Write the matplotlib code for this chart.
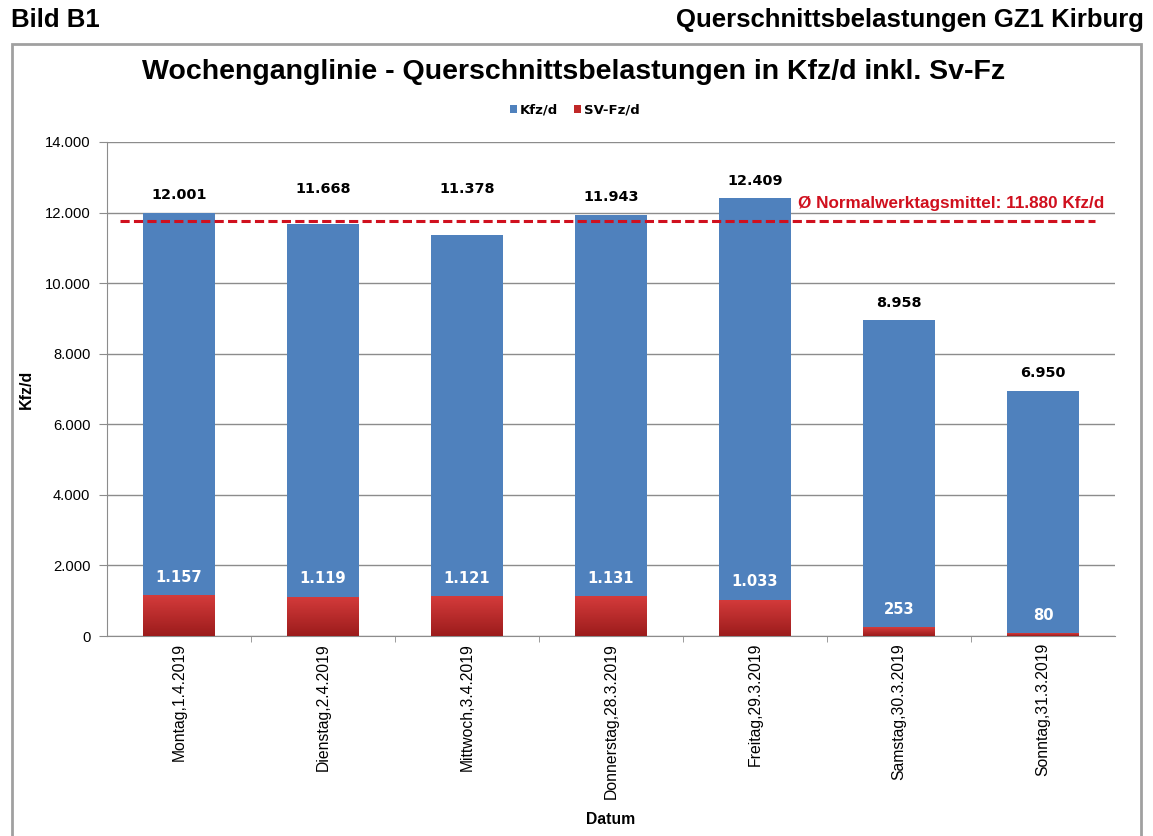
import numpy as np
import matplotlib
matplotlib.use('Agg')
import matplotlib.pyplot as plt
from matplotlib.patches import Rectangle
from matplotlib.colors import LinearSegmentedColormap
from matplotlib.ticker import FuncFormatter, FixedLocator

plt.rcParams['font.family'] = ['Liberation Sans', 'DejaVu Sans']

# data
days = ['Montag,1.4.2019', 'Dienstag,2.4.2019', 'Mittwoch,3.4.2019',
        'Donnerstag,28.3.2019', 'Freitag,29.3.2019', 'Samstag,30.3.2019',
        'Sonntag,31.3.2019']
kfz = [12001, 11668, 11378, 11943, 12409, 8958, 6950]
sv = [1157, 1119, 1121, 1131, 1033, 253, 80]
mean_label = 11880   # value written in the label
mean_drawn = 11750   # where the dashed line sits in the picture

def de(v):
    return '{:,.0f}'.format(v).replace(',', '.')

blue = '#4f81bd'
red_top = '#d43b3b'
red_bot = '#9c1c1c'
lred = '#d0101e'

fig = plt.figure(figsize=(11.53, 8.36), dpi=100)

# header and frame
fig.text(11/1153, 1-20/836, 'Bild B1', fontsize=18.5, fontweight='bold', va='center', ha='left')
fig.text(1144/1153, 1-20/836, 'Querschnittsbelastungen GZ1 Kirburg', fontsize=18.5,
         fontweight='bold', va='center', ha='right')
fig.patches.append(Rectangle((12/1153, -0.01), (1141-12)/1153, 1-44/836+0.01,
                             transform=fig.transFigure, fill=False,
                             edgecolor='#a0a0a0', linewidth=2))
fig.text(574/1153, 1-72/836, 'Wochenganglinie - Querschnittsbelastungen in Kfz/d inkl. Sv-Fz',
         fontsize=20.5, fontweight='bold', ha='center', va='center')

ax = fig.add_axes([107/1153, 1-636/836, (1115-107)/1153, (636-142)/836])
x = np.arange(len(days))
w = 0.5

b1 = ax.bar(x, kfz, width=w, color=blue, label='Kfz/d', zorder=2)
b2 = ax.bar(x, sv, width=w, color='#c02828', label='SV-Fz/d', zorder=3)

# gradient on the red bars
cmap = LinearSegmentedColormap.from_list('rg', [red_bot, red_top])
grad = np.linspace(0, 1, 64).reshape(-1, 1)
for r in b2:
    ext = [r.get_x(), r.get_x()+r.get_width(), 0, r.get_height()]
    im = ax.imshow(grad, cmap=cmap, extent=ext, origin='lower', aspect='auto', zorder=3.5)
    im.set_clip_path(r)

ax.axhline(mean_drawn, xmin=13/1008, xmax=988/1008, color=lred, linestyle=(0, (3, 1.4)),
           linewidth=2.2, zorder=4)
ax.annotate('Ø Normalwerktagsmittel: ' + de(mean_label) + ' Kfz/d', xy=(4.3, mean_drawn),
            xytext=(0, 13), textcoords='offset points', color=lred, fontsize=12.3,
            fontweight='bold', ha='left', va='center', zorder=5)

for i in range(len(days)):
    base = kfz[i]
    if 11000 < kfz[i] < mean_drawn:
        base = 12180   # labels of bars just under the line are lifted above it
    ax.annotate(de(kfz[i]), xy=(x[i], base), xytext=(0, 12.5),
                textcoords='offset points', ha='center', va='center', fontsize=10.4,
                fontweight='bold', color='black', family='DejaVu Sans')
    ax.annotate(de(sv[i]), xy=(x[i], sv[i]), xytext=(0, 13),
                textcoords='offset points', ha='center', va='center', fontsize=10.6,
                fontweight='bold', color='white', zorder=6, family='DejaVu Sans')

ax.set_xlim(-0.5, 6.5)
ax.set_ylim(0, 14000)
ax.set_yticks(np.arange(0, 14001, 2000))
ax.yaxis.set_major_formatter(FuncFormatter(lambda v, p: de(v)))
ax.grid(axis='y', color='#8c8c8c', linewidth=1, zorder=0)
ax.set_axisbelow(True)
ax.set_xticks(x)
ax.set_xticklabels(days, rotation=90, fontsize=11.3)
ax.xaxis.set_minor_locator(FixedLocator(np.arange(0.5, 6.0, 1.0)))
ax.tick_params(axis='x', which='major', length=0, pad=5)
ax.tick_params(axis='x', which='minor', length=4, color='#8c8c8c')
ax.tick_params(axis='y', length=6, color='#8c8c8c', labelsize=10.6, pad=6)
for s in ['top', 'right']:
    ax.spines[s].set_visible(False)
for s in ['left', 'bottom']:
    ax.spines[s].set_color('#8c8c8c')

ax.set_ylabel('Kfz/d', fontsize=11.5, fontweight='bold')
ax.yaxis.set_label_coords(-(107-34)/1008, 0.5)
ax.set_xlabel('Datum', fontsize=11.3, fontweight='bold')
ax.xaxis.set_label_coords(0.5, -(812-636)/494)

leg = fig.legend(handles=[b1, b2], loc='center', bbox_to_anchor=(575/1153, 1-110/836), ncol=2,
                 frameon=False, handlelength=0.5, handleheight=0.5,
                 handletextpad=0.25, columnspacing=1.2,
                 prop={'weight': 'bold', 'size': 9.5, 'family': 'DejaVu Sans'})

fig.savefig('out.png', dpi=100)
